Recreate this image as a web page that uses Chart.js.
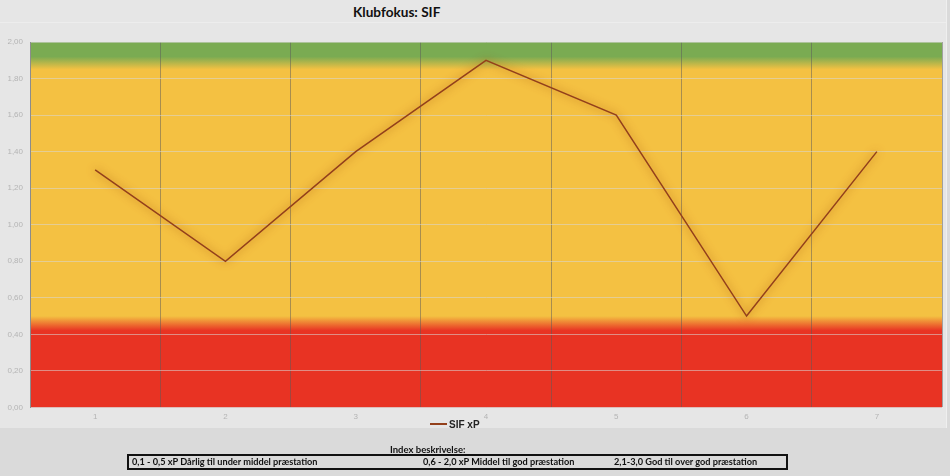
<!DOCTYPE html>
<html>
<head>
<meta charset="utf-8">
<script src="https://cdn.jsdelivr.net/npm/chart.js@4.4.1/dist/chart.umd.min.js"></script>
<style>
  html, body { margin: 0; padding: 0; }
  body { width: 950px; height: 476px; background: #dadada; position: relative; overflow: hidden; font-family: Lato, "Liberation Sans", sans-serif; }
  #panel { position: absolute; left: 0; top: 0; width: 946px; height: 428px; background: #e6e6e6; border-right: 1px solid #efefef; }
  #topline { position: absolute; left: 0; top: 22px; width: 946px; height: 1px; background: #ededed; }
  #title { position: absolute; left: 353px; top: 4px; font: bold 13.6px Lato, sans-serif; color: #111; white-space: nowrap; }
  #wrap { position: absolute; left: 0; top: 0; width: 950px; height: 428px; }
  #legend { position: absolute; left: 430px; top: 419px; font: bold 10px "Liberation Sans", Arial, sans-serif; color: #222; white-space: nowrap; }
  #legend span.ln { display: inline-block; width: 17px; height: 2px; vertical-align: middle; margin-right: 2px; margin-top: -2px; }
  #idx { position: absolute; left: 390px; top: 444px; font: bold 9.5px Lato, sans-serif; color: #111; white-space: nowrap; }
  #box { position: absolute; left: 127px; top: 454px; width: 657px; height: 12px; border: 2px solid #111; }
  #box div { position: absolute; top: 0px; font: bold 9.2px Lato, sans-serif; color: #111; white-space: nowrap; line-height: 12px; }
</style>
</head>
<body>
<div id="panel"></div>
<div id="topline"></div>
<div id="title">Klubfokus: SIF</div>
<div id="wrap"><canvas id="chart"></canvas></div>
<div id="legend"></div>
<div id="idx">Index beskrivelse:</div>
<div id="box"></div>
<script>
const categories = ['1', '2', '3', '4', '5', '6', '7'];
const seriesName = 'SIF xP';
const sifValues = [1.3, 0.8, 1.4, 1.9, 1.6, 0.5, 1.4];
const yTicks = [0, 0.2, 0.4, 0.6, 0.8, 1.0, 1.2, 1.4, 1.6, 1.8, 2.0];
const descriptions = [
  '0,1 - 0,5 xP Dårlig til under middel præstation',
  '0,6 - 2,0 xP Middel til god præstation',
  '2,1-3,0 God til over god præstation'
];
const lineColor = '#93401b';

// zone background behind the plot (green top, yellow middle, red bottom)
const zoneBackground = {
  id: 'zoneBackground',
  beforeDraw(chart) {
    const { ctx, chartArea, scales } = chart;
    const y = scales.y;
    const top = chartArea.top, bottom = chartArea.bottom, h = bottom - top;
    const f = v => (y.getPixelForValue(v) - top) / h;
    const g = ctx.createLinearGradient(0, top, 0, bottom);
    g.addColorStop(0, '#7aab52');
    g.addColorStop(f(1.92), '#7aab52');
    g.addColorStop(f(1.85), '#f4c142');
    g.addColorStop(f(0.5), '#f4c142');
    g.addColorStop(f(0.42), '#e83323');
    g.addColorStop(1, '#e83323');
    ctx.save();
    ctx.fillStyle = g;
    ctx.fillRect(chartArea.left, top, chartArea.right - chartArea.left, h);
    ctx.restore();
  }
};

// soft glow under the line
const lineGlow = {
  id: 'lineGlow',
  beforeDatasetDraw(chart) {
    const ctx = chart.ctx;
    ctx.save();
    ctx.shadowColor = 'rgba(160, 70, 10, 0.8)';
    ctx.shadowBlur = 8;
  },
  afterDatasetDraw(chart) {
    chart.ctx.restore();
  }
};

const ctx = document.getElementById('chart');
ctx.width = 950;
ctx.height = 428;

new Chart(ctx, {
  type: 'line',
  data: {
    labels: categories,
    datasets: [{
      label: seriesName,
      data: sifValues,
      borderColor: lineColor,
      backgroundColor: lineColor,
      borderWidth: 1.5,
      pointRadius: 0,
      tension: 0,
      fill: false
    }]
  },
  options: {
    responsive: false,
    animation: false,
    layout: { padding: { top: 42, right: 8, bottom: 1, left: 0 } },
    plugins: {
      legend: { display: false },
      title: { display: false },
      tooltip: { enabled: false }
    },
    scales: {
      x: {
        offset: true,
        grid: { offset: true, color: 'rgba(90, 90, 90, 0.5)', lineWidth: 1, drawTicks: false },
        border: { display: false },
        ticks: { color: '#b4b4b4', padding: 5, font: { family: 'Liberation Sans', size: 8 } }
      },
      y: {
        min: 0,
        max: 2,
        afterFit(scale) { scale.width = 30; },
        afterBuildTicks(scale) { scale.ticks = yTicks.map(v => ({ value: v })); },
        grid: { color: 'rgba(215, 215, 215, 0.55)', lineWidth: 1, drawTicks: false },
        border: { display: true, color: '#8c8c8c', width: 1 },
        ticks: {
          color: '#b4b4b4',
          padding: 7,
          font: { family: 'Liberation Sans', size: 8 },
          callback: v => v.toFixed(2).replace('.', ',')
        }
      }
    }
  },
  plugins: [zoneBackground, lineGlow]
});

// legend and description box
document.getElementById('legend').innerHTML =
  '<span class="ln" style="background:' + lineColor + '"></span>' + seriesName;
const box = document.getElementById('box');
const lefts = [3, 294, 485];
descriptions.forEach((t, i) => {
  const d = document.createElement('div');
  d.style.left = lefts[i] + 'px';
  d.textContent = t;
  box.appendChild(d);
});
</script>
</body>
</html>
